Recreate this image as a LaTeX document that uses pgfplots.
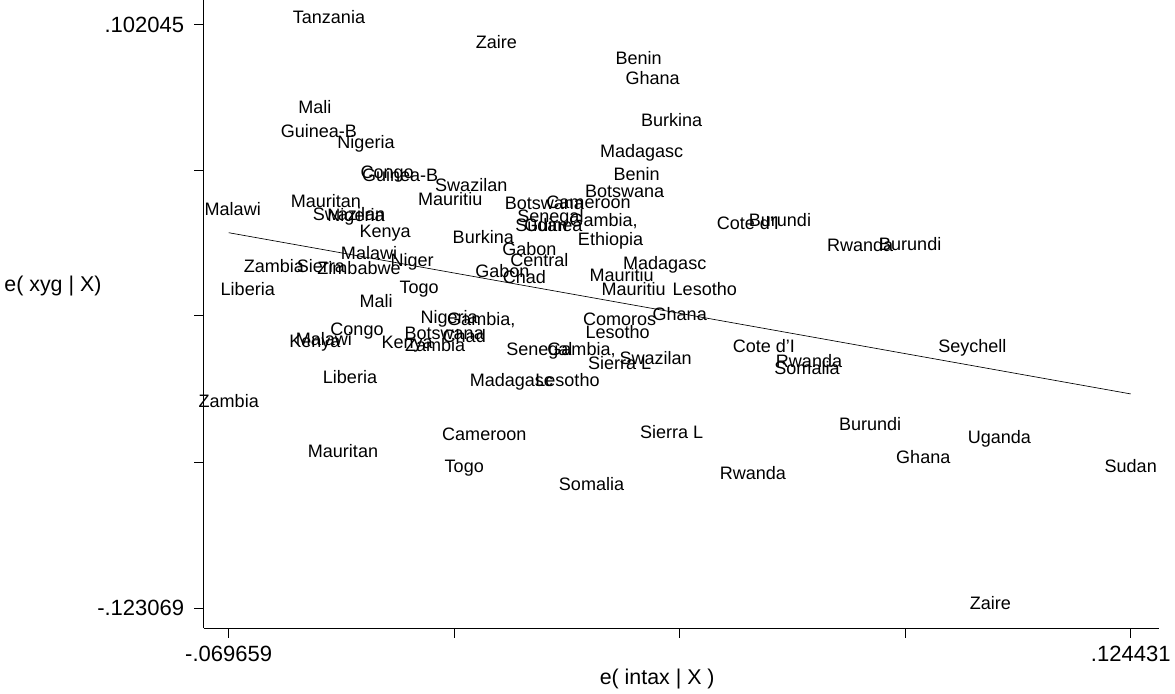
\documentclass[border=0pt]{standalone}
\usepackage{pgfplots}
\pgfplotsset{compat=1.18}
\usepackage{fontspec}
\setmainfont{Liberation Sans}
\begin{document}
\begin{tikzpicture}
\begin{axis}[
  scale only axis, width=715pt, height=470pt,
  xmin=215, xmax=1168, ymin=5, ymax=632, y dir=reverse,
  axis x line*=bottom, axis y line*=left,
  axis line style={black, line width=0.6pt},
  xtick={240,465,690,915,1140}, xticklabels={-.069659,,,,.124431},
  ytick={29,175,320,466,612}, yticklabels={.102045,,,,-.123069},
  tick align=outside, major tick length=7pt, tick style={black, line width=0.6pt},
  tick label style={font=\fontsize{16.5}{18}\selectfont},
  xticklabel style={yshift=-3pt},
  yticklabel style={xshift=-4pt},
  xlabel={e( intax | X )}, ylabel={e( xyg | X)},
  label style={font=\fontsize{16}{18}\selectfont},
  xlabel style={at={(axis description cs:0.5,0)}, anchor=center, yshift=-38pt, xshift=-18pt},
  ylabel style={rotate=-90, at={(axis description cs:0,0.545)}, anchor=east, xshift=-73pt},
  clip=false,
]
\addplot[black, line width=0.5pt] coordinates {(240,237) (1140,398)};
\addplot[draw=none, mark=none, nodes near coords, point meta=explicit symbolic,
  every node near coord/.style={anchor=center, inner sep=0pt, font=\fontsize{13.5}{15}\selectfont}]
  table[meta=lab] {
x y lab
340 22 Tanzania
507 47 Zaire
649 63 Benin
663 83 Ghana
326 112 Mali
330 135 Guinea-B
377 148 Nigeria
682 124 Burkina
652 157 Madagasc
398 178 Congo
411 179 Guinea-B
482 189 Swazilan
647 178 Benin
635 196 Botswana
244 213 Malawi
337 205 Mauritan
461 203 Mauritiu
555 208 Botswana
599 207 Cameroon
360 218 Swazilan
367 221 Nigeria
561 222 Senegal
614 225 Gambia,
552 229 Sudan
564 229 Guinea
758 227 {Cote d'I}
790 224 Burundi
870 249 Rwanda
920 248 Burundi
396 237 Kenya
494 241 Burkina
621 245 Ethiopia
540 253 Gabon
380 257 Malawi
423 266 Niger
550 264 Central
675 269 Madagasc
285 270 Zambia
332 270 Sierra
370 272 Zimbabwe
513 275 Gabon
535 281 Chad
632 279 Mauritiu
259 293 Liberia
430 293 Togo
387 305 Mali
644 293 Mauritiu
715 293 Lesotho
690 318 Ghana
630 323 Comoros
460 323 Nigeria
492 324 Gambia,
368 335 Congo
628 336 Lesotho
455 338 Botswana
475 340 Chad
335 343 Malawi
326 347 Kenya
418 348 Kenya
446 349 Zambia
550 355 Senegal
592 354 Gambia,
666 362 Swazilan
630 367 {Sierra L}
774 350 {Cote d'I}
819 365 Rwanda
817 372 Somalia
982 352 Seychell
361 381 Liberia
522 386 Madagasc
578 384 Lesotho
240 405 Zambia
495 438 Cameroon
682 436 {Sierra L}
880 428 Burundi
1009 443 Uganda
354 455 Mauritan
933 461 Ghana
1140 470 Sudan
475 472 Togo
763 477 Rwanda
602 488 Somalia
1000 607 Zaire
};
\end{axis}
\end{tikzpicture}
\end{document}
